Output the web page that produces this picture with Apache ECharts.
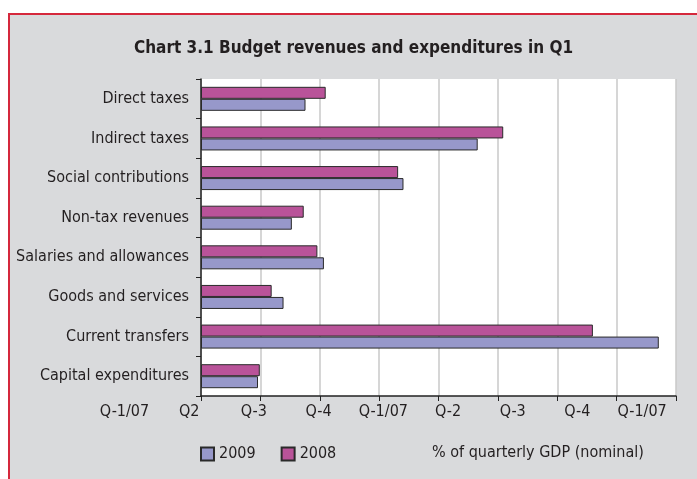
<!DOCTYPE html>
<html>
<head>
<meta charset="utf-8">
<script src="https://cdn.jsdelivr.net/npm/echarts@6/dist/echarts.min.js"></script>
<style>
  html, body { margin: 0; padding: 0; background: #fff; }
  #chart { position: absolute; left: 8px; top: 13px; width: 689px; height: 466px;
           background: #d9dadc; border-top: 2px solid #d5283c; border-left: 2px solid #d5283c; box-sizing: border-box; }
</style>
</head>
<body>
<div id="chart"></div>
<script>
const categories = ['Direct taxes', 'Indirect taxes', 'Social contributions', 'Non-tax revenues',
  'Salaries and allowances', 'Goods and services', 'Current transfers', 'Capital expenditures']
const values2008 = [2.10, 5.09, 3.32, 1.73, 1.96, 1.19, 6.60, 0.99]
const values2009 = [1.76, 4.66, 3.41, 1.53, 2.07, 1.39, 7.71, 0.96]
const tickLabels = ['Q-1/07', 'Q2', 'Q-3', 'Q-4', 'Q-1/07', 'Q-2', 'Q-3', 'Q-4', 'Q-1/07']

const font = '"Liberation Sans Narrow", "DejaVu Sans Condensed", sans-serif'
const ink = '#231f20'
// chart div is offset by 10px left / 15px top (incl. border)
const ox = 10
const oy = 15

const chart = echarts.init(document.getElementById('chart'))
chart.setOption({
  animation: false,
  textStyle: { fontFamily: font, color: ink },
  title: [{
    text: 'Chart 3.1 Budget revenues and expenditures in Q1',
    left: 'center',
    top: 35 - oy,
    textStyle: { fontFamily: font, fontSize: 17, fontWeight: 'bold', color: ink }
  }, {
    text: '% of quarterly GDP (nominal)',
    left: 427 - ox,
    top: 440 - oy,
    textStyle: { fontFamily: font, fontSize: 16, fontWeight: 'normal', color: ink }
  }],
  legend: {
    data: ['2009', '2008'],
    left: 195 - ox,
    top: 441 - oy,
    icon: 'rect',
    itemWidth: 13,
    itemHeight: 13,
    itemGap: 25,
    textStyle: { fontFamily: font, fontSize: 16, color: ink }
  },
  grid: [{
    left: 201 - ox,
    right: 21,
    top: 79 - oy,
    bottom: 83,
    outerBoundsMode: 'none',
    containLabel: false,
    show: true,
    backgroundColor: '#fff',
    borderWidth: 0
  }, {
    // only carries the odd quarter labels under the axis
    left: 124.5 - ox,
    width: 517.6,
    top: 79 - oy,
    bottom: 83,
    outerBoundsMode: 'none',
    containLabel: false,
    borderWidth: 0
  }],
  xAxis: [{
    type: 'value',
    gridIndex: 0,
    min: 0,
    max: 8,
    interval: 1,
    axisLine: { show: true, lineStyle: { color: '#222', width: 1.5 } },
    axisTick: { show: true, length: 5, lineStyle: { color: '#222' } },
    axisLabel: { show: false },
    splitLine: { show: true, lineStyle: { color: '#c8c8c8', width: 1.5 } }
  }, {
    type: 'value',
    gridIndex: 1,
    min: 0,
    max: 8,
    interval: 1,
    axisLine: { show: false },
    axisTick: { show: false },
    splitLine: { show: false },
    axisLabel: {
      margin: 8,
      fontFamily: font,
      fontSize: 16,
      color: ink,
      formatter: v => tickLabels[v]
    }
  }],
  yAxis: [{
    type: 'category',
    gridIndex: 0,
    inverse: true,
    data: categories,
    axisLine: { show: true, lineStyle: { color: '#222', width: 1.5 } },
    axisTick: { show: true, length: 5, lineStyle: { color: '#222' } },
    axisLabel: { margin: 12, fontFamily: font, fontSize: 16, color: ink }
  }, {
    type: 'category',
    gridIndex: 1,
    show: false,
    data: categories
  }],
  series: [{
    name: '2008',
    type: 'bar',
    xAxisIndex: 0,
    yAxisIndex: 0,
    barWidth: 12,
    barGap: '0%',
    itemStyle: { color: '#b95399', borderColor: '#2a2a2a', borderWidth: 1 },
    data: values2008
  }, {
    name: '2009',
    type: 'bar',
    xAxisIndex: 0,
    yAxisIndex: 0,
    barWidth: 12,
    barGap: '0%',
    itemStyle: { color: '#9798ca', borderColor: '#2a2a2a', borderWidth: 1 },
    data: values2009
  }]
})
</script>
</body>
</html>
